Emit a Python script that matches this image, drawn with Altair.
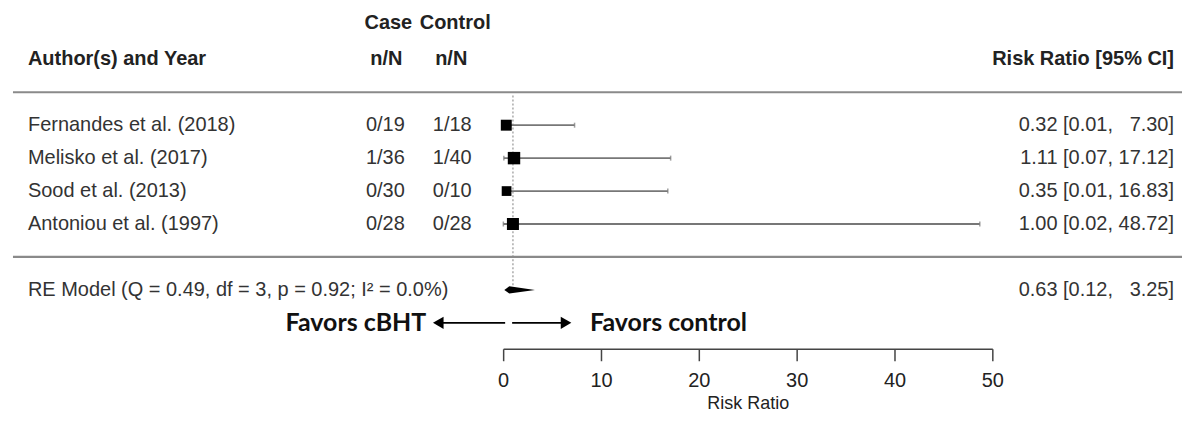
import altair as alt
import pandas as pd

# ---- data ----
authors = ["Fernandes et al. (2018)", "Melisko et al. (2017)",
           "Sood et al. (2013)", "Antoniou et al. (1997)"]
case_nN = ["0/19", "1/36", "0/30", "0/28"]
control_nN = ["1/18", "1/40", "0/10", "0/28"]
rr = [0.32, 1.11, 0.35, 1.00]
ci_lo = [0.01, 0.07, 0.01, 0.02]
ci_hi = [7.30, 17.12, 16.83, 48.72]
weights = [24, 31, 19, 29]

re_label = "RE Model (Q = 0.49, df = 3, p = 0.92; I\u00b2 = 0.0%)"
re_est, re_lo, re_hi = 0.63, 0.12, 3.25
axis_ticks = [0, 10, 20, 30, 40, 50]

FONT = "Liberation Sans"
FS = 20
TXT = "#333333"

def fmt(v):
    s = f"{v:.2f}"
    return s if len(s) >= 5 else "\u2007" + s

def ci_text(e, l, h):
    return f"{e:.2f} [{l:.2f}, {fmt(h)}]"

n = len(authors)
studies = pd.DataFrame({
    "row": list(range(n)),
    "author": authors, "case": case_nN, "ctrl": control_nN,
    "rr": rr, "lo": ci_lo, "hi": ci_hi, "w": weights,
    "lab": [ci_text(e, l, h) for e, l, h in zip(rr, ci_lo, ci_hi)],
})
re_row = n + 1
fav_row = n + 2

YSCALE = alt.Scale(domain=[-3.79, 9.0], range=[0, 422], nice=False, zero=False)
Y = alt.Y("row:Q", scale=YSCALE, axis=None)
XSCALE = alt.Scale(domain=[0, 50], range=[504, 994], nice=False, zero=False)

def X(field):
    return alt.X(field, scale=XSCALE, title="Risk Ratio",
                 axis=alt.Axis(values=axis_ticks, grid=False, domainColor="#444",
                               domainWidth=1.5, tickColor="#444", tickWidth=1.5,
                               tickSize=12, labelFontSize=FS, labelColor="#222",
                               labelFont=FONT, labelPadding=10, labelFlush=False,
                               titleFont=FONT, titleFontSize=18, titleFontWeight="normal",
                               titleColor="#222", titlePadding=4))

base = alt.Chart(studies)

# dotted reference line at RR = 1
ref = alt.Chart(pd.DataFrame({"x": [1.0], "y1": [-0.9], "y2": [re_row]})).mark_rule(
    color="#aaaaaa", strokeDash=[2, 2], strokeWidth=1.5
).encode(x=X("x:Q"), y=alt.Y("y1:Q", scale=YSCALE, axis=None), y2="y2:Q")

# separators
seps = alt.Chart(pd.DataFrame({"row": [-1, n]})).mark_rule(
    color="#8a8a8a", strokeWidth=2.2
).encode(y=Y, x=alt.value(13), x2=alt.value(1184))

ci = base.mark_rule(color="#777777", strokeWidth=1.8).encode(x=X("lo:Q"), x2="hi:Q", y=Y)
tick_lo = base.mark_tick(orient="vertical", size=5, thickness=1.5, color="#777777").encode(x=X("lo:Q"), y=Y)
tick_hi = base.mark_tick(orient="vertical", size=5, thickness=1.5, color="#777777").encode(x=X("hi:Q"), y=Y)
squares = base.mark_square(filled=True, color="black", opacity=1).encode(
    x=X("rr:Q"), y=Y,
    size=alt.Size("w:Q", scale=alt.Scale(domain=[0, 31], range=[0, 155]), legend=None))

txt_author = base.mark_text(align="left", baseline="middle", font=FONT, fontSize=FS, color=TXT).encode(
    x=alt.value(28), y=Y, text="author:N")
txt_case = base.mark_text(align="center", baseline="middle", font=FONT, fontSize=FS, color=TXT).encode(
    x=alt.value(386), y=Y, text="case:N")
txt_ctrl = base.mark_text(align="center", baseline="middle", font=FONT, fontSize=FS, color=TXT).encode(
    x=alt.value(453), y=Y, text="ctrl:N")
txt_ci = base.mark_text(align="right", baseline="middle", font=FONT, fontSize=FS, color=TXT).encode(
    x=alt.value(1176), y=Y, text="lab:N")

# headers
hdr = pd.DataFrame({
    "row": [-3.1, -3.1, -2, -2, -2, -2],
    "t": ["Case", "Control", "Author(s) and Year", "n/N", "n/N", "Risk Ratio [95% CI]"],
    "px": [389, 456, 28, 387, 452, 1176],
    "al": ["center", "center", "left", "center", "center", "right"],
})
headers = []
for al in ["left", "center", "right"]:
    headers.append(alt.Chart(hdr[hdr.al == al]).mark_text(
        align=al, baseline="middle", font=FONT, fontSize=FS, fontWeight="bold", color="#222"
    ).encode(x=alt.X("px:Q", scale=None), y=Y, text="t:N"))

# RE model row
re_df = pd.DataFrame({"row": [re_row], "t": [re_label], "lab": [ci_text(re_est, re_lo, re_hi)]})
re_txt = alt.Chart(re_df).mark_text(align="left", baseline="middle", font=FONT, fontSize=FS, color=TXT).encode(
    x=alt.value(28), y=Y, text="t:N")
re_ci = alt.Chart(re_df).mark_text(align="right", baseline="middle", font=FONT, fontSize=FS, color=TXT).encode(
    x=alt.value(1176), y=Y, text="lab:N")
h = 0.11
dia = pd.DataFrame({"x": [re_lo, re_est, re_hi],
                    "y1": [re_row, re_row - h, re_row], "y2": [re_row, re_row + h, re_row]})
diamond = alt.Chart(dia).mark_area(color="black", orient="vertical", opacity=1).encode(
    x=X("x:Q"), y=alt.Y("y1:Q", scale=YSCALE, axis=None), y2="y2:Q")

# favors arrows
fav = pd.DataFrame({"row": [fav_row]})
fav_c = alt.Chart(fav)
arrow_l = fav_c.mark_rule(color="black", strokeWidth=1.8).encode(y=Y, x=alt.value(442), x2=alt.value(506))
arrow_r = fav_c.mark_rule(color="black", strokeWidth=1.8).encode(y=Y, x=alt.value(513), x2=alt.value(564))
head_l = fav_c.mark_point(shape="triangle-left", filled=True, color="black", size=150, opacity=1).encode(
    y=Y, x=alt.value(439))
head_r = fav_c.mark_point(shape="triangle-right", filled=True, color="black", size=150, opacity=1).encode(
    y=Y, x=alt.value(567))
fav_l = fav_c.mark_text(text="Favors cBHT", align="right", baseline="middle", font="Lato",
                        fontSize=25, fontWeight="bold", color="#111").encode(y=Y, x=alt.value(427))
fav_r = fav_c.mark_text(text="Favors control", align="left", baseline="middle", font="Lato",
                        fontSize=25, fontWeight="bold", color="#111").encode(y=Y, x=alt.value(591))

chart = alt.layer(
    ref, seps, ci, tick_lo, tick_hi, squares, diamond,
    txt_author, txt_case, txt_ctrl, txt_ci, *headers, re_txt, re_ci,
    arrow_l, arrow_r, head_l, head_r, fav_l, fav_r,
).properties(width=1184, height=349, padding=0, background="white").configure_view(stroke=None)

chart.save("out.html", embed_options={"renderer": "svg", "actions": False})
